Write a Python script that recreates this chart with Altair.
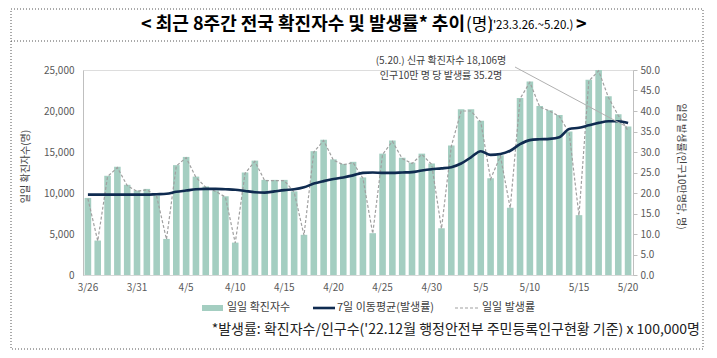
import altair as alt
import pandas as pd

FONT = "Noto Sans CJK KR"

dates = ["3/26", "3/27", "3/28", "3/29", "3/30", "3/31",
         "4/1", "4/2", "4/3", "4/4", "4/5", "4/6", "4/7", "4/8", "4/9", "4/10",
         "4/11", "4/12", "4/13", "4/14", "4/15", "4/16", "4/17", "4/18", "4/19", "4/20",
         "4/21", "4/22", "4/23", "4/24", "4/25", "4/26", "4/27", "4/28", "4/29", "4/30",
         "5/1", "5/2", "5/3", "5/4", "5/5", "5/6", "5/7", "5/8", "5/9", "5/10",
         "5/11", "5/12", "5/13", "5/14", "5/15", "5/16", "5/17", "5/18", "5/19", "5/20"]

cases = [9400, 4200, 12100, 13200, 11000, 10300,
         10500, 9700, 4400, 13400, 14400, 12000, 10800, 10300, 9600, 3950,
         12500, 13950, 11600, 11600, 11600, 10200, 4900, 15100, 16500, 14100,
         13550, 13800, 11900, 5100, 14800, 16400, 14300, 13700, 14800, 13600,
         5700, 15800, 20200, 20200, 18800, 11800, 14600, 8200, 21600, 23600,
         20600, 20100, 19500, 17500, 7300, 23800, 25000, 21800, 19600, 18106]

daily_rate = [18.6, 8.3, 24.0, 26.2, 21.8, 20.4,
              20.8, 19.2, 8.7, 26.6, 28.6, 23.8, 21.4, 20.4, 19.0, 7.8,
              24.8, 27.7, 23.0, 23.0, 23.0, 20.2, 9.7, 30.0, 32.8, 28.0,
              26.9, 27.4, 23.6, 10.1, 29.4, 32.6, 28.4, 27.2, 29.4, 27.0,
              11.3, 31.4, 40.0, 40.0, 37.3, 23.4, 29.0, 16.3, 43.0, 47.0,
              41.0, 40.0, 38.7, 34.7, 14.5, 47.3, 49.8, 43.3, 38.9, 35.2]

ma_rate = [19.6, 19.6, 19.6, 19.6, 19.6, 19.6,
           19.6, 19.7, 19.8, 20.3, 20.6, 20.9, 21.0, 21.0, 20.9, 20.8,
           20.5, 20.2, 20.1, 20.4, 20.7, 20.9, 21.4, 22.3, 22.9, 23.4,
           23.8, 24.3, 24.9, 25.0, 24.9, 24.9, 25.0, 25.1, 25.5, 25.8,
           26.0, 26.3, 27.2, 28.7, 30.2, 29.3, 29.5, 30.3, 31.9, 32.9,
           33.1, 33.2, 33.6, 35.6, 35.9, 36.5, 37.1, 37.5, 37.5, 37.1]

x_tick_labels = ["3/26", "3/31", "4/5", "4/10", "4/15", "4/20",
                 "4/25", "4/30", "5/5", "5/10", "5/15", "5/20"]
left_ticks = [0, 5000, 10000, 15000, 20000, 25000]
right_ticks = [0, 5, 10, 15, 20, 25, 30, 35, 40, 45, 50]

df = pd.DataFrame({"date": dates, "cases": cases, "rate": daily_rate, "ma": ma_rate})
one = pd.DataFrame({"k": [0]})

x_enc = alt.X(
    "date:N", sort=dates, title=None,
    scale=alt.Scale(paddingInner=0.33, paddingOuter=0.165),
    axis=alt.Axis(values=x_tick_labels, labelAngle=0, ticks=False,
                  domainColor="#d9d9d9", labelPadding=7, labelFontSize=10,
                  labelColor="#595959", labelFont=FONT),
)

bars = alt.Chart(df).mark_bar(color="#a4cec1").encode(
    x=x_enc,
    y=alt.Y("cases:Q", scale=alt.Scale(domain=[0, 25000], nice=False),
            axis=alt.Axis(orient="left", values=left_ticks,
                          labelExpr="format(datum.value, ',.0f')", ticks=False,
                          grid=False, domainColor="#bfbfbf", labelPadding=9,
                          labelFontSize=10, labelColor="#595959", labelFont=FONT,
                          title="일일 확진자수(명)", titleAngle=-90, titleX=-58, titleY=96,
                          titleAlign="center", titleBaseline="middle",
                          titleFontSize=10, titleFontWeight="normal",
                          titleColor="#404040", titleFont=FONT)),
)

rate_axis = alt.Axis(orient="right", values=right_ticks,
                     labelExpr="format(datum.value, '.1f')", tickSize=4,
                     tickColor="#bfbfbf", domainColor="#bfbfbf", grid=False,
                     labelPadding=3, labelFontSize=10, labelColor="#595959",
                     labelFont=FONT, title="일일 발생률(인구10만명당, 명)",
                     titleAngle=90, titleX=47, titleY=96, titleAlign="center",
                     titleBaseline="middle", titleFontSize=10,
                     titleFontWeight="normal", titleColor="#404040", titleFont=FONT)
rate_scale = alt.Scale(domain=[0, 50], nice=False)

dash = alt.Chart(df).mark_line(color="#a0a0a0", strokeDash=[3, 2], strokeWidth=1.2).encode(
    x=x_enc, y=alt.Y("rate:Q", scale=rate_scale, axis=rate_axis))
ma = alt.Chart(df).mark_line(color="#0f2b50", strokeWidth=2.6, interpolate="monotone").encode(
    x=x_enc, y=alt.Y("ma:Q", scale=rate_scale, axis=rate_axis))

base = alt.layer(bars, alt.layer(dash, ma)).resolve_scale(y="independent")


def txt(text, x, y, size, weight="normal", align="left", color="#000000"):
    return alt.Chart(one).mark_text(text=text, font=FONT, fontSize=size, fontWeight=weight,
                                    align=align, baseline="middle", color=color).encode(
        x=alt.value(x), y=alt.value(y))


def rule(x1, y1, x2, y2, color, width=1, dash_=None):
    kw = dict(color=color, strokeWidth=width)
    if dash_:
        kw["strokeDash"] = dash_
    return alt.Chart(one).mark_rule(**kw).encode(
        x=alt.value(x1), y=alt.value(y1), x2=alt.value(x2), y2=alt.value(y2))


deco = [
    # frame
    alt.Chart(one).mark_rect(fillOpacity=0, stroke="#555555", strokeWidth=1,
                             strokeDash=[1, 2]).encode(
        x=alt.value(-72), x2=alt.value(620), y=alt.value(-61), y2=alt.value(279)),
    rule(-72, -29, 620, -29, "#555555", 1, [1, 2]),
    # title
    txt("< 최근 8주간 전국 확진자수 및 발생률* 추이", 382, -45, 18, "bold", "right"),
    txt("(명)", 383, -45, 17, "normal", "left"),
    txt("('23.3.26.~5.20.)", 406, -44, 11.5, "normal", "left"),
    txt(">", 493, -45, 18, "bold", "left"),
    # annotation
    txt("(5.20.) 신규 확진자수 18,106명", 358, -9, 10, "normal", "center", "#404040"),
    txt("인구10만 명 당 발생률 35.2명", 358, 6, 10, "normal", "center", "#404040"),
    rule(432, -3, 544, 57, "#b0b0b0", 1),
    # legend
    alt.Chart(one).mark_rect(color="#a4cec1").encode(
        x=alt.value(119), x2=alt.value(140), y=alt.value(235), y2=alt.value(241)),
    txt("일일 확진자수", 144, 238, 11, "normal", "left", "#404040"),
    rule(230, 238, 252, 238, "#0f2b50", 2.6),
    txt("7일 이동평균(발생률)", 254, 238, 11, "normal", "left", "#404040"),
    rule(372, 238, 395, 238, "#a0a0a0", 1.2, [3, 2]),
    txt("일일 발생률", 399, 238, 11, "normal", "left", "#404040"),
    # footnote
    txt("*발생률: 확진자수/인구수('22.12월 행정안전부 주민등록인구현황 기준) x 100,000명",
        617, 260, 14, "normal", "right", "#222222"),
]

chart = alt.layer(base, *deco).properties(
    width=550, height=205,
    autosize=alt.AutoSizeParams(type="none"),
    padding={"left": 75, "top": 62, "right": 76, "bottom": 75},
).configure_view(stroke=None).configure(background="#ffffff")

chart.save("out.html", embed_options={"renderer": "svg", "actions": False})
